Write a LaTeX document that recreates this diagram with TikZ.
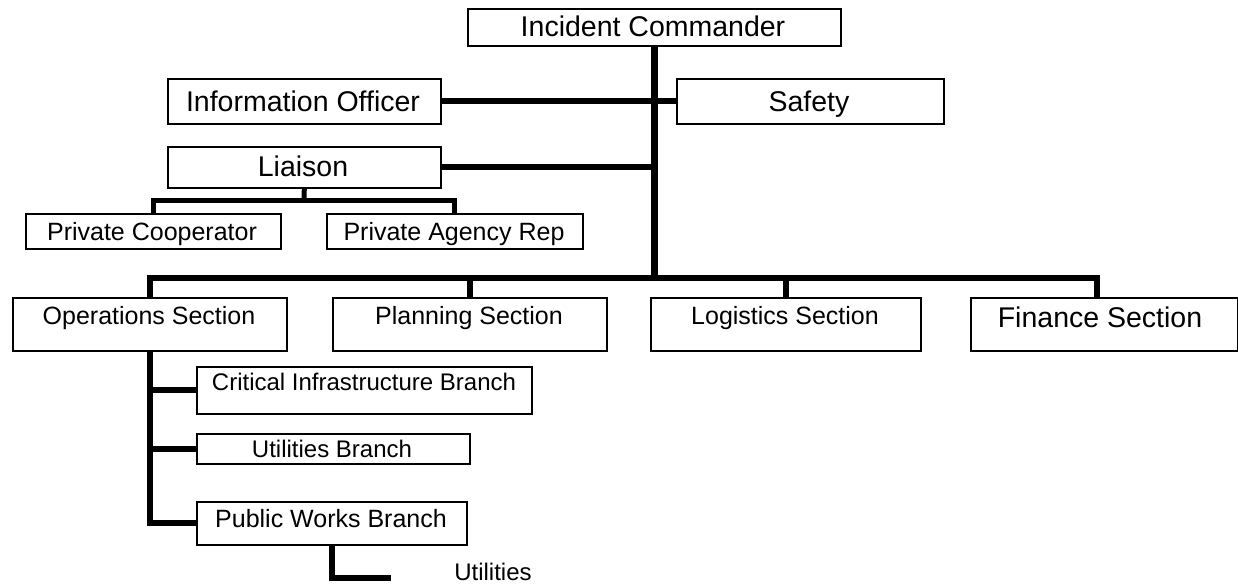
\documentclass[tikz,border=0pt]{standalone}
\usepackage{fontspec}
\setmainfont{Liberation Sans}
\begin{document}
\begin{tikzpicture}[x=1pt,y=-1pt,
  box/.style={draw=black, line width=1.6pt, rectangle, inner sep=0pt, anchor=north west},
  lbl/.style={inner sep=0pt, anchor=base},
  big/.style={font=\fontsize{28.5}{30}\selectfont},
  mid/.style={font=\fontsize{25}{27}\selectfont},
  sml/.style={font=\fontsize{24}{26}\selectfont},
  conn/.style={line width=6pt, line join=miter},
  trunk/.style={line width=7pt},
  thinconn/.style={line width=5pt, line join=miter}]
\useasboundingbox (0,0) rectangle (1238,583);
% boxes
\node[box, minimum width=373pt, minimum height=37pt] (ic) at (467,8) {};
\node[box, minimum width=273pt, minimum height=45pt] (info) at (167,78) {};
\node[box, minimum width=267pt, minimum height=45pt] (safety) at (676,78) {};
\node[box, minimum width=273pt, minimum height=41pt] (liaison) at (167,146) {};
\node[box, minimum width=255pt, minimum height=35pt] (pc) at (25,213) {};
\node[box, minimum width=256pt, minimum height=35pt] (par) at (326,213) {};
\node[box, minimum width=274pt, minimum height=53pt] (ops) at (12,297) {};
\node[box, minimum width=274pt, minimum height=53pt] (plan) at (332,297) {};
\node[box, minimum width=270pt, minimum height=53pt] (logi) at (650,297) {};
\node[box, minimum width=267pt, minimum height=53pt] (fin) at (970,297) {};
\node[box, minimum width=335pt, minimum height=47pt] (cib) at (196,366) {};
\node[box, minimum width=273pt, minimum height=30pt] (ub) at (196,433) {};
\node[box, minimum width=270pt, minimum height=43pt] (pwb) at (196,501) {};
% labels
\node[lbl, big] (ict) at (653,37) {Incident Commander};
\node[lbl, big] (infot) at (303,111) {Information Officer};
\node[lbl, big] (safetyt) at (809,111) {Safety};
\node[lbl, big] (liaisont) at (303,176) {Liaison};
\node[lbl, mid] (pct) at (152,240) {Private Cooperator};
\node[lbl, mid] (part) at (454,240) {Private Agency Rep};
\node[lbl, mid] (opst) at (149,324) {Operations Section};
\node[lbl, mid] (plant) at (469,324) {Planning Section};
\node[lbl, mid] (logit) at (785,324) {Logistics Section};
\node[lbl, big] (fint) at (1100,327) {Finance Section};
\node[lbl, sml] (cibt) at (364,390) {Critical Infrastructure Branch};
\node[lbl, sml] (ubt) at (332,457) {Utilities Branch};
\node[lbl, mid] (pwbt) at (331,527) {Public Works Branch};
\node[lbl, sml] (utilt) at (493,580) {Utilities};
% junction coordinates
\coordinate (busR) at (1097,278);
\coordinate (lj) at (304,200);
\coordinate (uend) at (391,578);
% connectors
\draw[trunk] (ic.south) -- (ic.south |- busR);
\draw[conn] (info.east) -- (safety.west);
\draw[conn] (liaison.east) -- (liaison.east -| ic.south);
\draw[thinconn] (liaison.south) -- (lj);
\draw[thinconn] (pc.north) |- (lj) -| (par.north);
\draw[conn] (ops.north) |- (busR) -- (busR |- fin.north);
\draw[conn] (plan.north) -- (plan.north |- busR);
\draw[conn] (logi.north) -- (logi.north |- busR);
\draw[conn] (ops.south) |- (pwb.west);
\draw[conn] (ops.south |- cib.west) -- (cib.west);
\draw[conn] (ops.south |- ub.west) -- (ub.west);
\draw[conn] (pwb.south) |- (uend);
\end{tikzpicture}
\end{document}
